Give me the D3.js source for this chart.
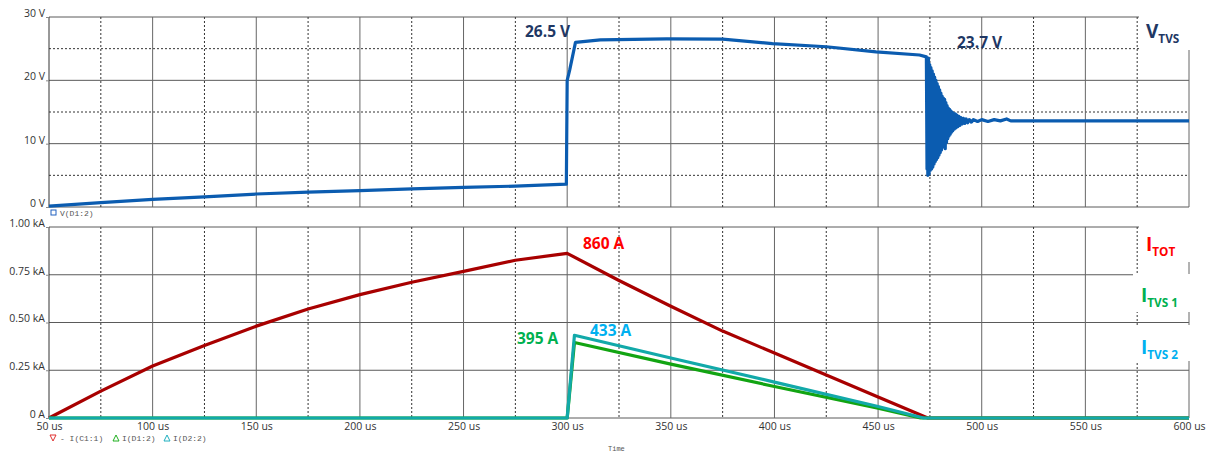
<!DOCTYPE html>
<html><head><meta charset="utf-8">
<script src="https://cdn.jsdelivr.net/npm/d3@7"></script>
<style>body{margin:0;background:#fff}svg{display:block}</style>
</head><body>
<svg id="c" width="1227" height="453"></svg>
<script>
// ---- data ----
const xTicks = [50,100,150,200,250,300,350,400,450,500,550,600];
const xMinor = [75,125,175,225,275,325,375,425,475,525,575];
const vTicks = [0,10,20,30];
const vTickLabels = ["0 V","10 V","20 V","30 V"];
const vMinor = [5,15,25];
const iTicks = [0,0.25,0.5,0.75,1.0];
const iTickLabels = ["0 A","0.25 kA","0.50 kA","0.75 kA","1.00 kA"];

// V(D1:2) in volts
const vTime = [50,75,100,125,150,175,200,225,250,275,299.6,299.8,300,301.2,304,316,348,375,399,425,449,470,473.3,
  473.6,473.8,474.0,474.3,474.6,474.9,475.2,475.5,475.8,476.1,476.4,476.7,477.0,477.3,477.6,477.9,478.2,478.5,478.8,479.1,
  479.4,479.7,480.0,480.3,480.6,480.9,481.2,481.5,481.8,482.1,482.4,482.7,483.0,483.3,483.6,483.9,484.2,484.5,484.8,485.1,
  485.4,485.7,486.0,486.4,486.8,487.2,487.6,488,488.5,489,489.5,490,490.6,491.2,491.8,492.5,493.2,494,495,496,498,500,503,506,509,512,514,600];
const vVal = [0.15,0.7,1.2,1.6,2.05,2.35,2.6,2.85,3.1,3.3,3.6,12,20,21.6,26.0,26.4,26.55,26.5,25.8,25.3,24.5,24.0,23.7,
  6,23,5,23.5,5.2,22.5,5.8,22,6,21.5,6.3,21,6.8,20.5,7.2,20,7.5,19.5,7.8,19,
  8.2,18.5,8.6,18,9,17.5,9.5,17.2,10,17,9.2,16.5,10.2,16,10.8,15.6,11.2,15.4,11.5,15.2,
  11.8,15,12,14.8,12.3,14.7,12.5,14.5,12.7,14.3,12.9,14.1,13.1,14.0,13.2,13.9,13.3,13.8,13.4,13.8,13.5,13.8,13.5,13.8,13.6,13.9,13.6,13.6];

// I(C1:1) total current, A
const iTotTime = [50,75,100,125,150,175,200,225,250,275,300,325,350,375,400,425,450,474,600];
const iTotVal  = [0,141,272,380,481,571,646,711,768,826,862,720,585,455,340,225,110,0,0];
// I(D1:2), A
const iD1Time = [50,300,303.5,350,400,450,470.5,600];
const iD1Val  = [0,0,395,282,165,52,0,0];
// I(D2:2), A
const iD2Time = [50,300,303.5,350,400,450,472,600];
const iD2Val  = [0,0,433,314,188,60,0,0];

// ---- chart ----
const svg = d3.select("#c");
const X0=49, X1=1189;
const x = d3.scaleLinear().domain([50,600]).range([X0,X1]);
const yV = d3.scaleLinear().domain([0,30]).range([207,17]);
const yI = d3.scaleLinear().domain([0,1000]).range([418,227]);
const font = "'Open Sans', sans-serif";

function grid(y, top, bottom, solidY, dashedY) {
  const g = svg.append("g");
  solidY.forEach(v => g.append("line").attr("x1",X0).attr("x2",X1).attr("y1",y(v)).attr("y2",y(v))
      .attr("stroke","#5a5a5a").attr("stroke-width",1));
  dashedY.forEach(v => g.append("line").attr("x1",X0).attr("x2",X1).attr("y1",y(v)).attr("y2",y(v))
      .attr("stroke","#333").attr("stroke-width",1).attr("stroke-dasharray","2,2"));
  xTicks.forEach(t => g.append("line").attr("x1",x(t)).attr("x2",x(t)).attr("y1",top).attr("y2",bottom)
      .attr("stroke", t===50 ? "#333" : "#666").attr("stroke-width",1));
  xMinor.forEach(t => g.append("line").attr("x1",x(t)).attr("x2",x(t)).attr("y1",top).attr("y2",bottom)
      .attr("stroke","#333").attr("stroke-width",1).attr("stroke-dasharray","2,2"));
  return g;
}
grid(yV, yV(30), yV(0), vTicks, vMinor);
grid(yI, yI(1000), yI(0), iTicks.map(d=>d*1000), []);

const vAxis = d3.axisLeft(yV).tickValues(vTicks).tickSize(3).tickFormat((d,i)=>vTickLabels[i]);
const gv = svg.append("g").attr("transform",`translate(${X0},0)`).call(vAxis);
const iAxis = d3.axisLeft(yI).tickValues(iTicks.map(d=>d*1000)).tickSize(3).tickFormat((d,i)=>iTickLabels[i]);
const gi = svg.append("g").attr("transform",`translate(${X0},0)`).call(iAxis);
[gv,gi].forEach(g=>{
  g.select(".domain").remove();
  g.selectAll("line").attr("stroke","#888");
  g.selectAll("text").attr("font-family",font).attr("font-size",10.5).attr("fill","#333").attr("dy","-0.05em").attr("x",-4);
});
const xAxis = d3.axisBottom(x).tickValues(xTicks).tickSize(0).tickFormat(d=>d+" us");
const gx = svg.append("g").attr("transform",`translate(0,${yI(0)})`).call(xAxis);
gx.select(".domain").remove();
gx.selectAll("text").attr("font-family",font).attr("font-size",10.5).attr("fill","#333").attr("y",5);

// traces
const lineV = d3.line().x((d,i)=>x(vTime[i])).y(d=>yV(d));
svg.append("path").datum(vVal).attr("d",lineV).attr("fill","none").attr("stroke","#0B5CB0").attr("stroke-width",3.2).attr("stroke-linejoin","round");
function cur(t, v, color) {
  const l = d3.line().x((d,i)=>x(t[i])).y(d=>yI(d));
  svg.append("path").datum(v).attr("d",l).attr("fill","none").attr("stroke",color).attr("stroke-width",3.2).attr("stroke-linejoin","round");
}
cur(iTotTime, iTotVal, "#A80000");
cur(iD1Time, iD1Val, "#12A412");
cur(iD2Time, iD2Val, "#12A9A9");

// label boxes (white) on the right
[[1139,8,70,42],[1139,220,70,42],[1133,274,76,38],[1133,325,76,36]].forEach(r=>
  svg.append("rect").attr("x",r[0]).attr("y",r[1]).attr("width",r[2]).attr("height",r[3]).attr("fill","#fff"));

function sub(xp, yp, main, subTxt, color, size) {
  const t = svg.append("text").attr("x",xp).attr("y",yp).attr("font-family","'Open Sans', sans-serif")
    .attr("font-weight","bold").attr("fill",color).attr("font-size",size);
  t.append("tspan").text(main);
  t.append("tspan").attr("font-size",size*0.62).attr("dy",size*0.28).text(subTxt);
}
sub(1146, 38, "V", "TVS", "#1F3864", 19);
sub(1146, 251, "I", "TOT", "#FF0000", 19);
sub(1141, 302, "I", "TVS 1", "#00B050", 19);
sub(1141, 354, "I", "TVS 2", "#00B0F0", 19);

function ann(xp, yp, txt, color) {
  svg.append("text").attr("x",xp).attr("y",yp).attr("font-family","'Open Sans', sans-serif").attr("font-weight","bold")
    .attr("font-size",15.5).attr("fill",color).text(txt);
}
ann(525, 37, "26.5 V", "#1F3864");
ann(957, 48, "23.7 V", "#1F3864");
ann(583, 249, "860 A", "#FF0000");
ann(517, 344, "395 A", "#00B050");
ann(590, 336, "433 A", "#00B0F0");

// legends
const mono = "'Liberation Mono', monospace";
svg.append("rect").attr("x",51).attr("y",210).attr("width",5).attr("height",5).attr("fill","none").attr("stroke","#2060C0").attr("stroke-width",1);
svg.append("text").attr("x",60).attr("y",216).attr("font-family",mono).attr("font-size",8).attr("fill","#555").text("V(D1:2)");
const ly = 441;
svg.append("path").attr("d",`M50,${ly-6}L56,${ly-6}L53,${ly}Z`).attr("fill","none").attr("stroke","#E03030");
svg.append("text").attr("x",60).attr("y",ly).attr("font-family",mono).attr("font-size",8).attr("fill","#555").text("- I(C1:1)");
svg.append("path").attr("d",`M113,${ly}L119,${ly}L116,${ly-6}Z`).attr("fill","none").attr("stroke","#20B020");
svg.append("text").attr("x",122).attr("y",ly).attr("font-family",mono).attr("font-size",8).attr("fill","#555").text("I(D1:2)");
svg.append("path").attr("d",`M164,${ly}L170,${ly}L167,${ly-6}Z`).attr("fill","none").attr("stroke","#20B0C0");
svg.append("text").attr("x",173).attr("y",ly).attr("font-family",mono).attr("font-size",8).attr("fill","#555").text("I(D2:2)");
svg.append("text").attr("x",608).attr("y",451).attr("font-family",mono).attr("font-size",7).attr("fill","#555").text("Time");
</script>
</body></html>
